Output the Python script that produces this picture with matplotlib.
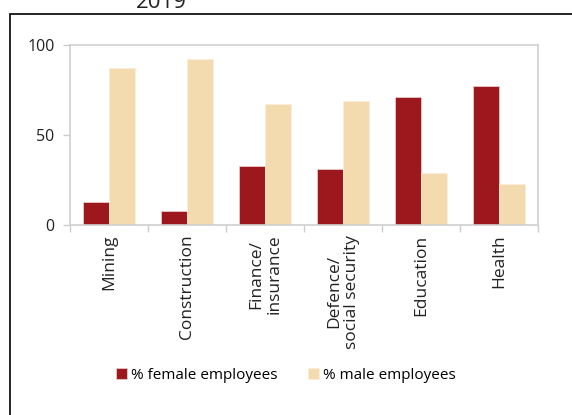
import matplotlib.pyplot as plt
import matplotlib.patches as mpatches
import numpy as np

categories = ["Mining", "Construction", "Finance/\ninsurance",
              "Defence/\nsocial security", "Education", "Health"]
female = [13, 8, 33, 31, 71, 77]
male = [87, 92, 67, 69, 29, 23]
y_ticks = [0, 50, 100]

plt.rcParams['font.family'] = ['Open Sans', 'DejaVu Sans']

fig = plt.figure(figsize=(5.72, 4.15), dpi=100)
ax = fig.add_axes([70/572, 1-225/415, 468/572, 180/415])

x = np.arange(len(categories))
w = 1/3
ax.bar(x - w/2, female, w, color='#9c181c', edgecolor='#e8c8c8', linewidth=0.6,
       label='% female employees')
ax.bar(x + w/2, male, w, color='#f3dbaf', edgecolor='#fbeedd', linewidth=0.6,
       label='% male employees')

ax.set_xlim(-0.5, len(categories) - 0.5)
ax.set_ylim(0, 100)
ax.set_yticks(y_ticks)
ax.set_yticklabels([str(v) for v in y_ticks], fontsize=11.5, color='#222222')

# boundary ticks, labels at centres
ax.set_xticks(np.arange(len(categories) + 1) - 0.5)
ax.set_xticklabels([])
ax.set_xticks(x, minor=True)
ax.set_xticklabels(categories, minor=True, rotation=90, fontsize=12.5,
                   va='top', ha='center', color='#222222', linespacing=1.2)
ax.tick_params(axis='x', which='minor', length=0, pad=7)
ax.tick_params(axis='x', which='major', length=5, color='#cccccc', width=1)
ax.tick_params(axis='y', length=5, color='#cccccc', width=1, pad=6)

for s in ax.spines.values():
    s.set_color('#d0d0d0')
    s.set_linewidth(1.2)

fig.legend(loc='center', bbox_to_anchor=(0.5, 1-375/415), ncol=2, frameon=False,
           fontsize=11, handlelength=0.7, handleheight=0.7, handletextpad=0.3,
           columnspacing=2.0)

# outer frame
frame = mpatches.Rectangle((10/572, -0.1), 1.2, 1.1 - 14/415, transform=fig.transFigure,
                           fill=False, edgecolor='black', linewidth=1.2, clip_on=False)
fig.patches.append(frame)

fig.text(161/572, 1 - 2/415, "2019", fontsize=16, ha='center', va='center', color='#222222')

fig.savefig('out.png', dpi=100)
